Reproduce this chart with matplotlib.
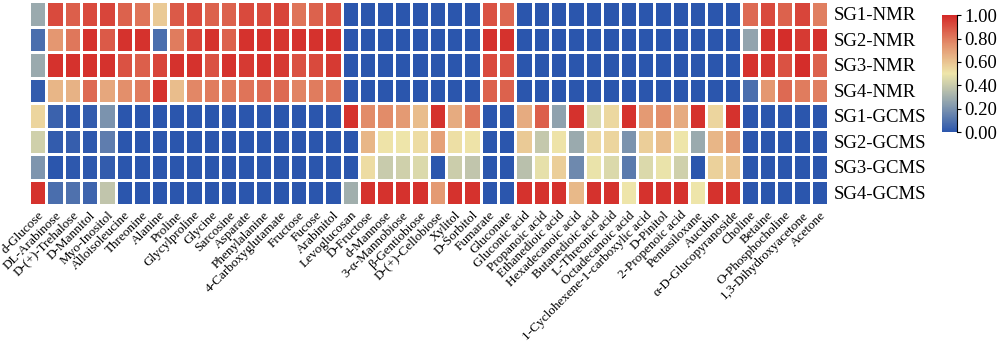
import numpy as np
import matplotlib
matplotlib.use("Agg")
import matplotlib.pyplot as plt
from matplotlib.colors import LinearSegmentedColormap

plt.rcParams["font.family"] = ["Liberation Serif", "DejaVu Serif"]

metabolites = [
    "d-Glucose", "DL-Arabinose", "D-(+)-Trehalose", "D-Mannitol", "Myo-Inositol",
    "Alloisoleucine", "Threonine", "Alanine", "Proline", "Glycylproline",
    "Glycine", "Sarcosine", "Asparate", "Phenylalanine", "4-Carboxyglutamate",
    "Fructose", "Fucose", "Arabinitol", "Levoglucosan", "D-Fructose",
    "d-Mannose", "3-α-Mannobiose", "β-Gentiobiose", "D-(+)-Cellobiose", "Xylitol",
    "D-Sorbitol", "Fumarate", "Gluconate", "Gluconic acid", "Propanoic acid",
    "Ethanedioic acid", "Hexadecanoic acid", "Butanedioic acid", "L-Threonic acid",
    "Octadecanoic acid", "1-Cyclohexene-1-carboxylic acid", "D-Pinitol",
    "2-Propenoic acid", "Pentasiloxane", "Aucubin", "α-D-Glucopyranoside",
    "Choline", "Betaine", "O-Phosphocholine", "1,3-Dihydroxyacetone", "Acetone",
]

samples = ["SG1-NMR", "SG2-NMR", "SG3-NMR", "SG4-NMR",
           "SG1-GCMS", "SG2-GCMS", "SG3-GCMS", "SG4-GCMS"]

# normalised intensities, one list per sample (46 metabolites each)
sg1_nmr = [0.28, 0.92, 0.87, 0.92, 0.93, 0.86, 0.82, 0.58, 0.88, 0.92, 0.86, 0.86,
           0.92, 0.92, 0.93, 0.82, 0.86, 0.91, 0.0, 0.0, 0.0, 0.0, 0.0, 0.0,
           0.0, 0.0, 0.90, 0.85, 0.0, 0.0, 0.0, 0.0, 0.0, 0.0, 0.0, 0.0,
           0.0, 0.0, 0.0, 0.0, 0.0, 0.84, 0.92, 0.86, 0.93, 0.79]
sg2_nmr = [0.08, 0.73, 0.81, 0.98, 0.88, 0.98, 0.98, 0.08, 0.80, 0.94, 0.98, 0.86,
           0.98, 0.98, 0.97, 0.98, 0.98, 0.98, 0.0, 0.0, 0.0, 0.0, 0.0, 0.0,
           0.0, 0.0, 0.98, 0.98, 0.0, 0.0, 0.0, 0.0, 0.0, 0.0, 0.0, 0.0,
           0.0, 0.0, 0.0, 0.0, 0.0, 0.26, 0.98, 0.99, 0.96, 0.98]
sg3_nmr = [0.28, 0.98, 0.98, 0.98, 0.98, 0.90, 0.87, 0.93, 0.98, 0.98, 0.90, 0.98,
           0.96, 0.98, 0.96, 0.90, 0.92, 0.96, 0.0, 0.0, 0.0, 0.0, 0.0, 0.0,
           0.0, 0.0, 0.92, 0.90, 0.0, 0.0, 0.0, 0.0, 0.0, 0.0, 0.0, 0.0,
           0.0, 0.0, 0.0, 0.0, 0.0, 0.98, 0.97, 0.90, 0.99, 0.86]
sg4_nmr = [0.02, 0.64, 0.65, 0.84, 0.68, 0.75, 0.80, 0.98, 0.62, 0.77, 0.80, 0.80,
           0.82, 0.84, 0.84, 0.78, 0.80, 0.82, 0.0, 0.0, 0.0, 0.0, 0.0, 0.0,
           0.0, 0.0, 0.86, 0.86, 0.0, 0.0, 0.0, 0.0, 0.0, 0.0, 0.0, 0.0,
           0.0, 0.0, 0.0, 0.0, 0.0, 0.08, 0.73, 0.84, 0.80, 0.79]
sg1_gcms = [0.55, 0.04, 0.01, 0.02, 0.20, 0.0, 0.0, 0.0, 0.0, 0.0, 0.0, 0.0,
            0.0, 0.0, 0.0, 0.0, 0.0, 0.0, 0.98, 0.76, 0.76, 0.72, 0.62, 0.98,
            0.67, 0.81, 0.0, 0.0, 0.67, 0.87, 0.25, 0.98, 0.45, 0.54, 0.98, 0.72,
            0.75, 0.67, 0.98, 0.55, 0.98, 0.0, 0.0, 0.0, 0.0, 0.0]
sg2_gcms = [0.42, 0.02, 0.03, 0.01, 0.13, 0.0, 0.0, 0.0, 0.0, 0.0, 0.0, 0.0,
            0.0, 0.0, 0.0, 0.0, 0.0, 0.0, 0.0, 0.64, 0.51, 0.50, 0.53, 0.70,
            0.52, 0.51, 0.0, 0.0, 0.58, 0.39, 0.51, 0.28, 0.54, 0.55, 0.20, 0.57,
            0.62, 0.50, 0.28, 0.64, 0.72, 0.0, 0.0, 0.0, 0.0, 0.0]
sg3_gcms = [0.21, 0.0, 0.01, 0.01, 0.02, 0.0, 0.0, 0.0, 0.0, 0.0, 0.0, 0.0,
            0.0, 0.0, 0.0, 0.0, 0.0, 0.0, 0.0, 0.53, 0.40, 0.42, 0.45, 0.0,
            0.41, 0.38, 0.0, 0.0, 0.36, 0.48, 0.57, 0.17, 0.49, 0.45, 0.12, 0.45,
            0.49, 0.42, 0.0, 0.56, 0.60, 0.0, 0.0, 0.0, 0.0, 0.0]
sg4_gcms = [0.98, 0.08, 0.09, 0.05, 0.38, 0.0, 0.0, 0.0, 0.0, 0.0, 0.0, 0.0,
            0.0, 0.0, 0.0, 0.0, 0.0, 0.0, 0.30, 0.98, 0.98, 0.98, 0.98, 0.72,
            0.98, 0.98, 0.0, 0.0, 0.98, 0.98, 0.98, 0.63, 0.98, 0.98, 0.50, 0.98,
            0.98, 0.98, 0.50, 0.98, 0.98, 0.0, 0.0, 0.0, 0.0, 0.0]

data = np.array([sg1_nmr, sg2_nmr, sg3_nmr, sg4_nmr,
                 sg1_gcms, sg2_gcms, sg3_gcms, sg4_gcms])

cmap = LinearSegmentedColormap.from_list(
    "bwr_soft",
    [(0.0, "#2b56ad"), (0.25, "#8fa2ae"), (0.5, "#eee6aa"),
     (0.75, "#e3906c"), (1.0, "#d42a28")])

fig = plt.figure(figsize=(10, 3.44), dpi=100)
ax = fig.add_axes([0.029, 0.404, 0.799, 0.593])

mesh = ax.pcolormesh(data, cmap=cmap, vmin=0, vmax=1,
                     edgecolors="white", linewidth=0.8)
ax.set_xlim(0, data.shape[1])
ax.set_ylim(data.shape[0], 0)

for s in ax.spines.values():
    s.set_visible(False)

ax.set_xticks(np.arange(len(metabolites)) + 0.5)
ax.set_xticklabels(metabolites, rotation=45, ha="right",
                   rotation_mode="anchor", fontsize=9.5)
ax.yaxis.tick_right()
ax.set_yticks(np.arange(len(samples)) + 0.5)
ax.set_yticklabels(samples, fontsize=13.5)
ax.tick_params(axis="x", length=0, pad=3)
ax.tick_params(axis="y", length=0, pad=4)

# colour bar on the right
cax = fig.add_axes([0.942, 0.616, 0.015, 0.34])
cbar = fig.colorbar(mesh, cax=cax, ticks=[0, 0.2, 0.4, 0.6, 0.8, 1.0])
cbar.ax.set_yticklabels(["%.2f" % t for t in [0, 0.2, 0.4, 0.6, 0.8, 1.0]],
                        fontsize=13.5)
cbar.outline.set_visible(False)
cax.plot([1, 1], [0, 1], color="black", linewidth=0.8,
         transform=cax.transAxes, clip_on=False)
cax.tick_params(length=3, width=0.8, pad=2)

fig.savefig("out.png", dpi=100)
